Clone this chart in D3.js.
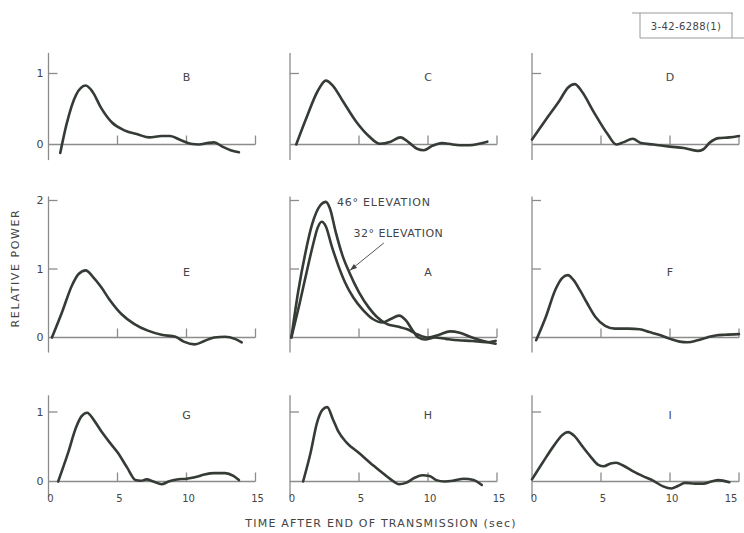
<!DOCTYPE html>
<html>
<head>
<meta charset="utf-8">
<script src="https://cdn.jsdelivr.net/npm/d3@7/dist/d3.min.js"></script>
<style>
  body { margin: 0; background: #fff; }
  svg { display: block; }
  text { font-family: "DejaVu Sans", sans-serif; fill: #444; }
</style>
</head>
<body>
<svg width="744" height="533"></svg>
<script>
// values: [seconds, relative power]
const seriesB = [[0.85,-0.12],[1.3,0.28],[2,0.7],[2.7,0.83],[3.2,0.74],[3.8,0.52],[4.6,0.31],[5.5,0.2],[6.5,0.14],[7.3,0.1],[8.2,0.12],[8.8,0.12],[9.6,0.06],[10.3,0.01],[10.9,0.0],[11.5,0.02],[12,0.03],[12.6,-0.03],[13.2,-0.08],[13.8,-0.11]];
const seriesC = [[0.45,0],[1.2,0.38],[2,0.75],[2.6,0.9],[3.1,0.83],[3.8,0.62],[4.8,0.32],[5.7,0.12],[6.5,0.01],[7.3,0.04],[8,0.1],[8.6,0.03],[9.2,-0.06],[9.7,-0.08],[10.3,-0.02],[11,0.02],[11.5,0.01],[12.3,-0.01],[13,-0.01],[13.7,0.01],[14.3,0.04]];
const seriesD = [[0,0.07],[1,0.35],[2,0.62],[2.6,0.8],[3.1,0.85],[3.6,0.75],[4.5,0.45],[5.5,0.14],[6.1,0],[6.6,0.03],[7.3,0.08],[7.9,0.02],[8.8,0],[10,-0.03],[11,-0.05],[12,-0.09],[12.4,-0.07],[12.9,0.03],[13.5,0.09],[14.3,0.1],[15,0.12]];
const seriesE = [[0.25,0],[1,0.38],[1.7,0.76],[2.2,0.93],[2.7,0.98],[3.2,0.89],[3.8,0.74],[4.4,0.56],[5.3,0.34],[6.2,0.2],[7.2,0.1],[8.2,0.04],[9.2,0.01],[9.8,-0.06],[10.6,-0.1],[11.3,-0.05],[12,0],[12.8,0.01],[13.5,-0.02],[14,-0.07]];
const seriesA46 = [[0.1,0],[0.6,0.68],[1.1,1.22],[1.6,1.65],[2.2,1.93],[2.6,1.98],[2.9,1.88],[3.3,1.55],[3.8,1.2],[4.3,0.95],[5,0.66],[5.7,0.44],[6.3,0.3],[7,0.2],[7.8,0.16],[8.5,0.12],[9.3,0.04],[10,0],[10.8,0.04],[11.6,0.09],[12.3,0.07],[13.2,0.0],[14,-0.05],[14.9,-0.09]];
const seriesA32 = [[0.1,0],[0.7,0.5],[1.2,0.95],[1.7,1.38],[2.0,1.6],[2.3,1.69],[2.6,1.62],[3,1.35],[3.5,1.05],[4,0.8],[4.6,0.58],[5.3,0.4],[6,0.27],[6.7,0.22],[7.3,0.27],[7.9,0.32],[8.4,0.25],[8.9,0.1],[9.3,0.0],[9.8,-0.03],[10.5,0],[11.3,-0.02],[12.2,-0.04],[13.2,-0.05],[14.2,-0.07],[14.9,-0.05]];
const seriesF = [[0.3,-0.04],[1,0.3],[1.7,0.7],[2.2,0.87],[2.6,0.91],[3.0,0.84],[3.5,0.68],[4,0.5],[4.6,0.3],[5.3,0.17],[6,0.13],[7,0.13],[7.8,0.12],[8.5,0.08],[9.2,0.04],[10,-0.02],[10.7,-0.06],[11.3,-0.07],[12,-0.04],[12.7,0],[13.3,0.03],[14,0.04],[15,0.05]];
const seriesG = [[0.7,0],[1.4,0.4],[2.0,0.78],[2.4,0.94],[2.8,0.99],[3.3,0.88],[3.8,0.73],[4.4,0.57],[5,0.42],[5.7,0.2],[6.3,0.02],[6.7,0.01],[7.1,0.03],[7.6,0],[8.2,-0.04],[8.7,0],[9.3,0.03],[10,0.04],[10.6,0.06],[11.3,0.1],[12,0.12],[12.8,0.12],[13.4,0.08],[13.8,0.02]];
const seriesH = [[0.95,0],[1.5,0.42],[1.95,0.84],[2.35,1.03],[2.7,1.07],[3.1,0.9],[3.5,0.72],[4.1,0.56],[5,0.41],[5.8,0.27],[6.6,0.14],[7.3,0.03],[7.9,-0.04],[8.4,-0.02],[9,0.05],[9.6,0.09],[10.1,0.08],[10.6,0.02],[11.2,0],[11.8,0.01],[12.6,0.04],[13.3,0.02],[13.9,-0.05]];
const seriesI = [[0,0.03],[0.8,0.28],[1.6,0.52],[2.2,0.67],[2.6,0.71],[3.1,0.65],[3.6,0.52],[4.2,0.37],[4.8,0.24],[5.2,0.22],[5.7,0.26],[6.1,0.27],[6.6,0.23],[7.3,0.15],[8,0.08],[8.8,0.01],[9.5,-0.07],[10.1,-0.1],[10.6,-0.06],[11.1,-0.02],[11.8,-0.03],[12.4,-0.03],[13,0],[13.5,0.02],[14.3,-0.01]];

const panelNames = ["B", "C", "D", "E", "A", "F", "G", "H", "I"];
const panelSeries = [[seriesB], [seriesC], [seriesD], [seriesE], [seriesA46, seriesA32], [seriesF], [seriesG], [seriesH], [seriesI]];
const xTicks = [0, 5, 10, 15];
const rowYTicks = [[0, 1], [0, 1, 2], [0, 1]];
const rowYTop = [1.29, 2.06, 1.24];

const svg = d3.select("svg");

// grid geometry (pixels)
const colLeft = [48.5, 290, 532];
const panelW = 207;
const rowZero = [144.5, 337.5, 481.5];
const rowUnit = [71, 68.5, 69.5];

const axisCol = "#8c8c8c";
const inkCol = "#353b35";

// smooth pen-drawn trace through the read points
const line = d3.line()
  .x(d => d[0]).y(d => d[1])
  .curve(d3.curveMonotoneX);

panelNames.forEach((name, i) => {
  const row = Math.floor(i / 3), col = i % 3;
  const x = d3.scaleLinear().domain([0, 15]).range([colLeft[col], colLeft[col] + panelW]);
  const y = d3.scaleLinear().domain([0, 1])
    .range([rowZero[row], rowZero[row] - rowUnit[row]]);
  const g = svg.append("g");

  // vertical axis
  g.append("line")
    .attr("x1", x(0)).attr("x2", x(0))
    .attr("y1", y(-0.22)).attr("y2", y(rowYTop[row]))
    .attr("stroke", axisCol).attr("stroke-width", 1.3);
  // baseline
  g.append("line")
    .attr("x1", x(0)).attr("x2", x(15))
    .attr("y1", y(0)).attr("y2", y(0))
    .attr("stroke", axisCol).attr("stroke-width", 1.3);

  // x ticks pointing up
  g.selectAll(".xt").data(xTicks.slice(1)).enter().append("line")
    .attr("x1", d => x(d)).attr("x2", d => x(d))
    .attr("y1", y(0)).attr("y2", y(0) - 9)
    .attr("stroke", axisCol).attr("stroke-width", 1.3);
  // y ticks pointing right
  g.selectAll(".yt").data(rowYTicks[row].slice(1)).enter().append("line")
    .attr("x1", x(0)).attr("x2", x(0) + 9)
    .attr("y1", d => y(d)).attr("y2", d => y(d))
    .attr("stroke", axisCol).attr("stroke-width", 1.3);

  if (col === 0) {
    g.selectAll(".yl").data(rowYTicks[row]).enter().append("text")
      .attr("x", x(0) - 5).attr("y", d => y(d))
      .attr("dy", "0.36em").attr("text-anchor", "end")
      .attr("font-size", 11).text(d => d);
  }
  if (row === 2) {
    g.selectAll(".xl").data(xTicks).enter().append("text")
      .attr("x", d => Math.min(x(d) + 2, 731))
      .attr("y", y(0) + 20)
      .attr("text-anchor", "middle")
      .attr("font-size", 10).text(d => d);
  }

  g.append("text")
    .attr("x", x(10)).attr("y", y(0.95))
    .attr("dy", "0.36em").attr("text-anchor", "middle")
    .attr("font-size", 11).attr("fill", "#555").text(name);

  panelSeries[i].forEach(s => {
    g.append("path")
      .attr("d", line(s.map(p => [x(p[0]), y(p[1])])))
      .attr("fill", "none")
      .attr("stroke", inkCol).attr("stroke-width", 2.6)
      .attr("stroke-linejoin", "round").attr("stroke-linecap", "round");
  });

  if (name === "A") {
    g.append("text").attr("x", x(3.4)).attr("y", y(1.98)).attr("dy", "0.36em")
      .attr("font-size", 11).attr("letter-spacing", 0.8).text("46° ELEVATION");
    g.append("text").attr("x", x(4.6)).attr("y", y(1.53)).attr("dy", "0.36em")
      .attr("font-size", 11).attr("letter-spacing", 0.5).text("32° ELEVATION");
    // arrow from the 32° label to its curve
    const tip = [x(4.35), y(0.98)];
    const tail = [x(6.8), y(1.38)];
    g.append("line")
      .attr("x1", tail[0]).attr("y1", tail[1]).attr("x2", tip[0]).attr("y2", tip[1])
      .attr("stroke", "#555").attr("stroke-width", 1);
    const ang = Math.atan2(tip[1] - tail[1], tip[0] - tail[0]);
    const head = [[0, 0], [-7, -2.5], [-7, 2.5]].map(([px, py]) => [
      tip[0] + px * Math.cos(ang) - py * Math.sin(ang),
      tip[1] + px * Math.sin(ang) + py * Math.cos(ang)
    ]);
    g.append("path").attr("d", "M" + head.join("L") + "Z").attr("fill", "#444");
  }
});

// axis titles
svg.append("text")
  .attr("transform", "translate(19,268) rotate(-90)")
  .attr("text-anchor", "middle").attr("font-size", 11).attr("letter-spacing", 1.6)
  .text("RELATIVE POWER");
svg.append("text")
  .attr("x", 381).attr("y", 527)
  .attr("text-anchor", "middle").attr("font-size", 11).attr("letter-spacing", 1.2)
  .text("TIME AFTER END OF TRANSMISSION  (sec)");

// figure number stamp
const stamp = svg.append("g").attr("stroke", "#999").attr("stroke-width", 1).attr("fill", "none");
stamp.append("line").attr("x1", 632).attr("x2", 733).attr("y1", 13).attr("y2", 13);
stamp.append("line").attr("x1", 640).attr("x2", 640).attr("y1", 13).attr("y2", 38);
stamp.append("line").attr("x1", 732).attr("x2", 732).attr("y1", 13).attr("y2", 38);
stamp.append("line").attr("x1", 640).attr("x2", 744).attr("y1", 38).attr("y2", 38);
svg.append("text").attr("x", 686).attr("y", 26).attr("dy", "0.36em")
  .attr("text-anchor", "middle").attr("font-size", 10).attr("letter-spacing", 0.4)
  .text("3-42-6288(1)");
</script>
</body>
</html>
